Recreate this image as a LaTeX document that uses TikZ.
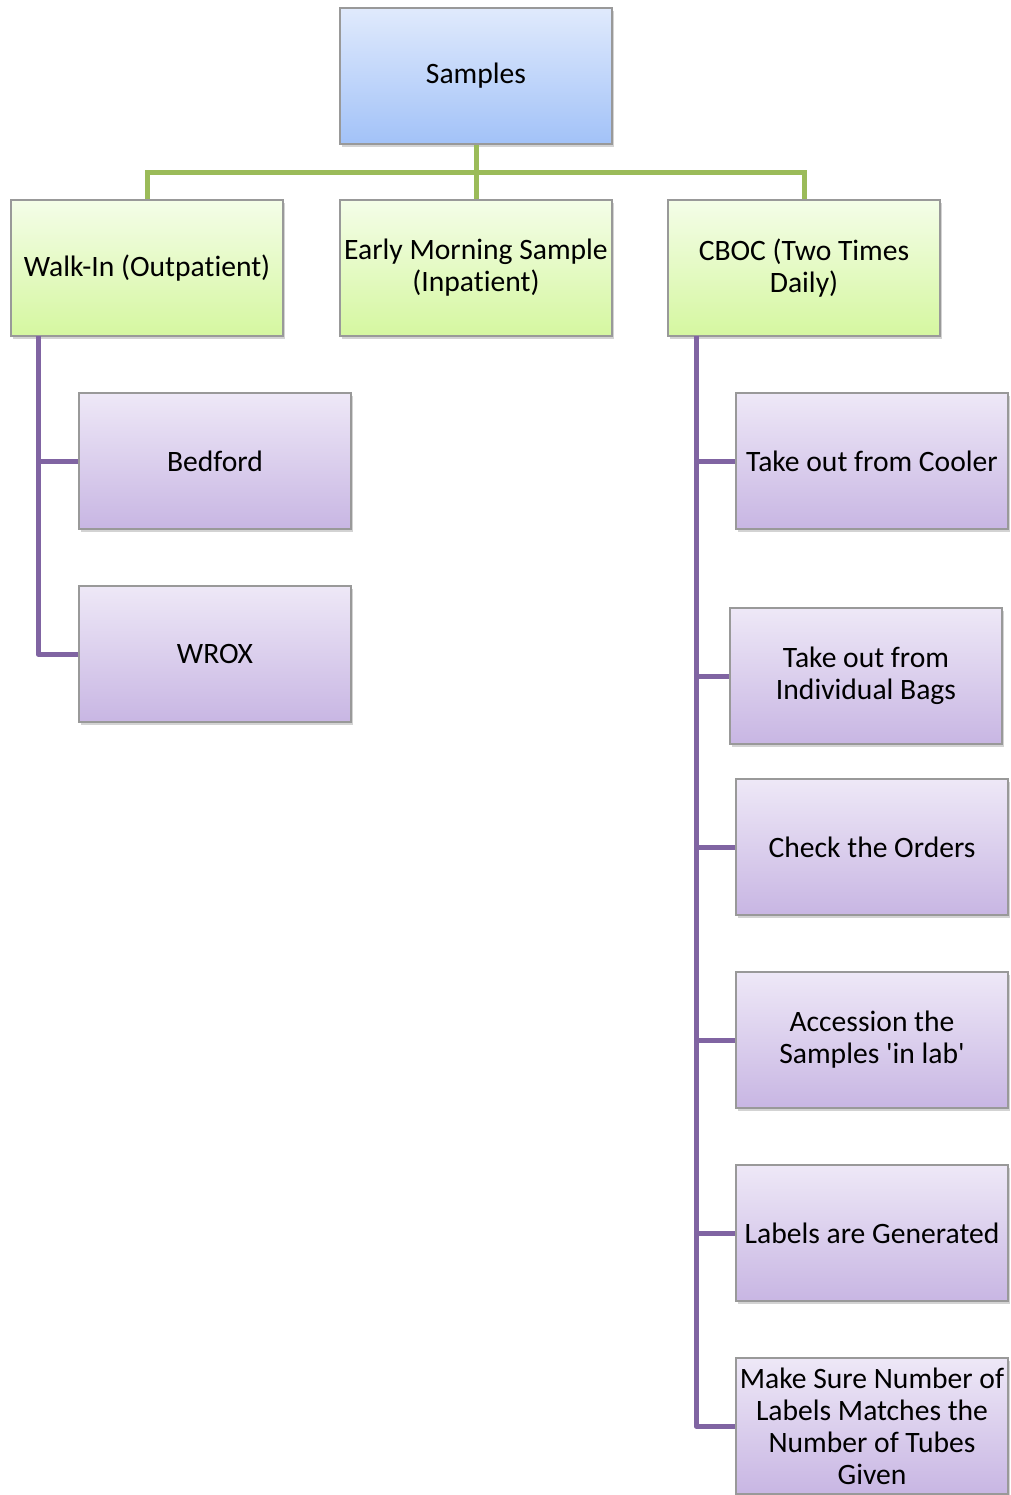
\documentclass[tikz,border=0pt]{standalone}
\usepackage{fontspec}
\setmainfont{Carlito}[Ligatures={NoCommon}]
\usetikzlibrary{shadows}
\definecolor{rootTop}{HTML}{E0EAFC}
\definecolor{rootBot}{HTML}{A2C2F8}
\definecolor{grpTop}{HTML}{F4FDE8}
\definecolor{grpBot}{HTML}{D5F7A0}
\definecolor{stepTop}{HTML}{EEE8F7}
\definecolor{stepBot}{HTML}{C8B6E3}
\definecolor{lineGreen}{HTML}{9BBB59}
\definecolor{linePurple}{HTML}{8064A2}
\tikzset{box/.style={rectangle,draw=gray!80,line width=0.6pt,minimum width=136pt,minimum height=68pt,
                     inner sep=1pt,align=center,font=\fontsize{14.8}{16}\selectfont,
                     drop shadow={shadow xshift=1pt,shadow yshift=-1.5pt,opacity=0.35}},
         rootbox/.style={box,top color=rootTop,bottom color=rootBot},
         grpbox/.style={box,top color=grpTop,bottom color=grpBot},
         stepbox/.style={box,top color=stepTop,bottom color=stepBot},
         greenlink/.style={draw=lineGreen,line width=2.5pt},
         purplelink/.style={draw=linePurple,line width=2.5pt,line join=round}}
\begin{document}
\begin{tikzpicture}[x=0.5pt,y=-0.5pt]
    \useasboundingbox (0,0) rectangle (1011,1495);
    % top level
    \node (root) [rootbox] at (476,76) {Samples};
    \node (walk) [grpbox] at (147,268) {Walk-In (Outpatient)};
    \node (early) [grpbox] at (476,268) {Early Morning Sample\\(Inpatient)};
    \node (cboc) [grpbox] at (804,268) {CBOC (Two Times\\Daily)};
    % walk-in steps
    \node (bed) [stepbox] at (215,461) {Bedford};
    \node (wrox) [stepbox] at (215,654) {WROX};
    % cboc steps
    \node (cool) [stepbox] at (872,461) {Take out from Cooler};
    \node (bags) [stepbox] at (866,676) {Take out from\\Individual Bags};
    \node (ord) [stepbox] at (872,847) {Check the Orders};
    \node (acc) [stepbox] at (872,1040) {Accession the\\Samples \textquotesingle in lab\textquotesingle};
    \node (lab) [stepbox] at (872,1233) {Labels are Generated};
    \node (tube) [stepbox] at (872,1426) {Make Sure Number of\\Labels Matches the\\Number of Tubes\\Given};
    % connectors
    \coordinate (hub) at (476,172);
    \coordinate (wtrunk) at (38,336);
    \coordinate (ctrunk) at (696,336);
    \draw[greenlink] (root.south) -- (hub);
    \foreach \g in {walk,early,cboc} {\draw[greenlink] (hub) -| (\g.north);}
    \foreach \s in {bed,wrox} {\draw[purplelink] (wtrunk) |- (\s.west);}
    \foreach \s in {cool,bags,ord,acc,lab,tube} {\draw[purplelink] (ctrunk) |- (\s.west);}
\end{tikzpicture}
\end{document}
